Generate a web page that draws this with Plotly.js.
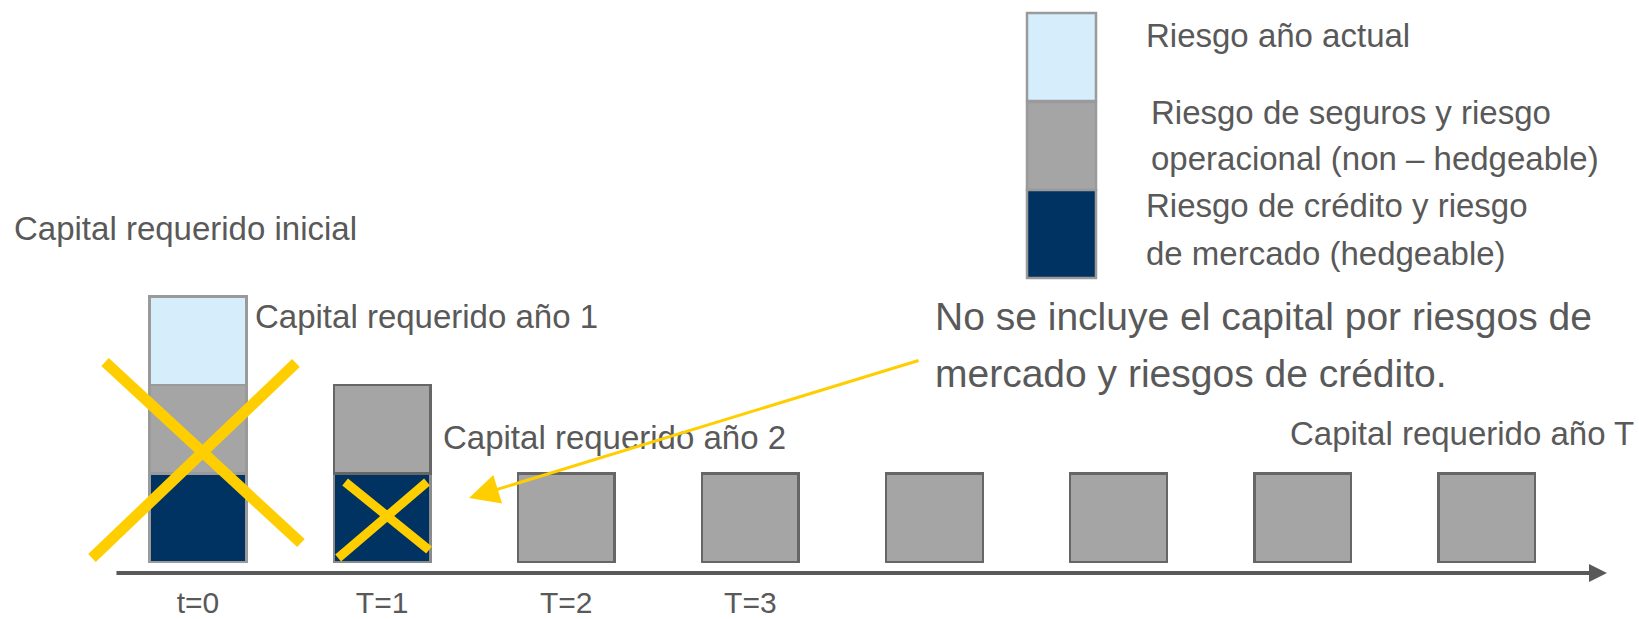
<!DOCTYPE html>
<html>
<head>
<meta charset="utf-8">
<script src="https://cdn.plot.ly/plotly-3.0.1.min.js"></script>
<style>html,body{margin:0;padding:0;background:#fff;}#chart{width:1639px;height:619px;}</style>
</head>
<body>
<div id="chart"></div>
<script>
// ---- data ----
const periodIndex = [0, 1, 2, 3, 4, 5, 6, 7];
const tickLabels = ['t=0', 'T=1', 'T=2', 'T=3'];
const hedgeable = [1, 1, null, null, null, null, null, null];      // crédito y mercado
const nonHedgeable = [1, 1, 1, 1, 1, 1, 1, 1];                      // seguros y operacional
const currentYear = [1, null, null, null, null, null, null, null]; // riesgo año actual
const seriesNames = ['Riesgo de crédito y riesgo de mercado (hedgeable)',
                     'Riesgo de seguros y riesgo operacional (non – hedgeable)',
                     'Riesgo año actual'];

// ---- layout helpers ----
const W = 1639, H = 619, MB = 46, PH = H - MB;
const FONT = 'Liberation Sans, Arial, sans-serif';
const TXT = '#595959';
const NAVY = '#003262', GRAY = '#A5A5A5', LBLUE = '#D6EDFC', YEL = '#FFCE00';
const pxX = x => x / W;
const pxY = y => (PH - y) / PH;

const barW = 0.525;
const traces = [
  {type: 'bar', x: periodIndex, y: hedgeable, name: seriesNames[0], width: barW,
   marker: {color: NAVY, line: {color: ['#9a9a9a', '#8a8a8a', '#666', '#666', '#666', '#666', '#666', '#666'], width: 2.5}},
   hoverinfo: 'skip'},
  {type: 'bar', x: periodIndex, y: nonHedgeable, name: seriesNames[1], width: barW,
   marker: {color: GRAY, line: {color: ['#9a9a9a', '#666', '#666', '#666', '#666', '#666', '#666', '#666'], width: 2.5}},
   hoverinfo: 'skip'},
  {type: 'bar', x: periodIndex, y: currentYear, name: seriesNames[2], width: barW,
   marker: {color: LBLUE, line: {color: '#9a9a9a', width: 2.5}},
   hoverinfo: 'skip'}
];

function txt(text, x, y, size) {
  return {text: text, xref: 'paper', yref: 'paper', x: pxX(x), y: pxY(y),
          xanchor: 'left', yanchor: 'middle', showarrow: false,
          font: {family: FONT, size: size, color: TXT}};
}
const S = 33, B = 39;
const annotations = [
  txt('Capital requerido inicial', 12, 228, S),
  txt('Capital requerido año 1', 253, 316, S),
  txt('Capital requerido año 2', 441, 437, S),
  txt('Capital requerido año T', 1288, 433, S),
  txt('Riesgo año actual', 1144, 36, S),
  txt('Riesgo de seguros y riesgo', 1149, 112, S),
  txt('operacional (non – hedgeable)', 1149, 158, S),
  txt('Riesgo de crédito y riesgo', 1144, 205, S),
  txt('de mercado (hedgeable)', 1144, 253, S),
  txt('No se incluye el capital por riesgos de', 933, 316, B),
  txt('mercado y riesgos de crédito.', 933, 373, B),
  // time axis arrow
  {xref: 'x', yref: 'y', axref: 'x', ayref: 'y', x: 7.653, y: -0.124, ax: -0.451, ay: -0.124,
   text: '', showarrow: true, arrowhead: 2, arrowsize: 0.9, arrowwidth: 4, arrowcolor: '#595959'},
  // yellow pointer arrow
  {xref: 'x', yref: 'y', axref: 'x', ayref: 'y', x: 1.472, y: 0.723, ax: 3.922, ay: 2.282,
   text: '', showarrow: true, arrowhead: 2, arrowsize: 2, arrowwidth: 3, arrowcolor: YEL}
];

// cross drawn over a bar: offsets are relative to the bar's centre (x in bar units)
function cross(i, a0, y0, a1, y1, b0, y2, b1, y3, w) {
  return [
    {type: 'line', xref: 'x', yref: 'y', x0: i + a0, y0: y0, x1: i + a1, y1: y1, line: {color: YEL, width: w}},
    {type: 'line', xref: 'x', yref: 'y', x0: i + b0, y0: y2, x1: i + b1, y1: y3, line: {color: YEL, width: w}}
  ];
}
function swatch(x0, y0, x1, y1, color) {
  return {type: 'rect', xref: 'paper', yref: 'paper', x0: pxX(x0), x1: pxX(x1), y0: pxY(y1), y1: pxY(y0),
          fillcolor: color, line: {color: '#9a9a9a', width: 2.5}};
}
const shapes = [
  swatch(1027, 13, 1096, 101, LBLUE),
  swatch(1027, 102, 1096, 190, GRAY),
  swatch(1027, 190, 1096, 278, NAVY),
  ...cross(periodIndex[0], -0.576, 0.045, 0.532, 2.249, -0.505, 2.26, 0.559, 0.215, 11),
  ...cross(periodIndex[1], -0.239, 0.045, 0.244, 0.904, -0.201, 0.904, 0.255, 0.136, 9)
];

const layout = {
  width: W, height: H,
  margin: {l: 0, r: 0, t: 0, b: MB, pad: 0},
  paper_bgcolor: '#fff', plot_bgcolor: '#fff',
  barmode: 'stack', showlegend: false,
  xaxis: {range: [-1.0755, 7.827], showgrid: false, zeroline: false, showline: false,
          tickvals: periodIndex.slice(0, tickLabels.length), ticktext: tickLabels, ticks: '',
          ticklabelstandoff: 9,
          tickfont: {family: FONT, size: 30, color: TXT}, fixedrange: true},
  yaxis: {range: [-0.124, 6.35], visible: false, fixedrange: true},
  annotations: annotations,
  shapes: shapes
};
Plotly.newPlot('chart', traces, layout, {displayModeBar: false, staticPlot: true});
</script>
</body>
</html>
